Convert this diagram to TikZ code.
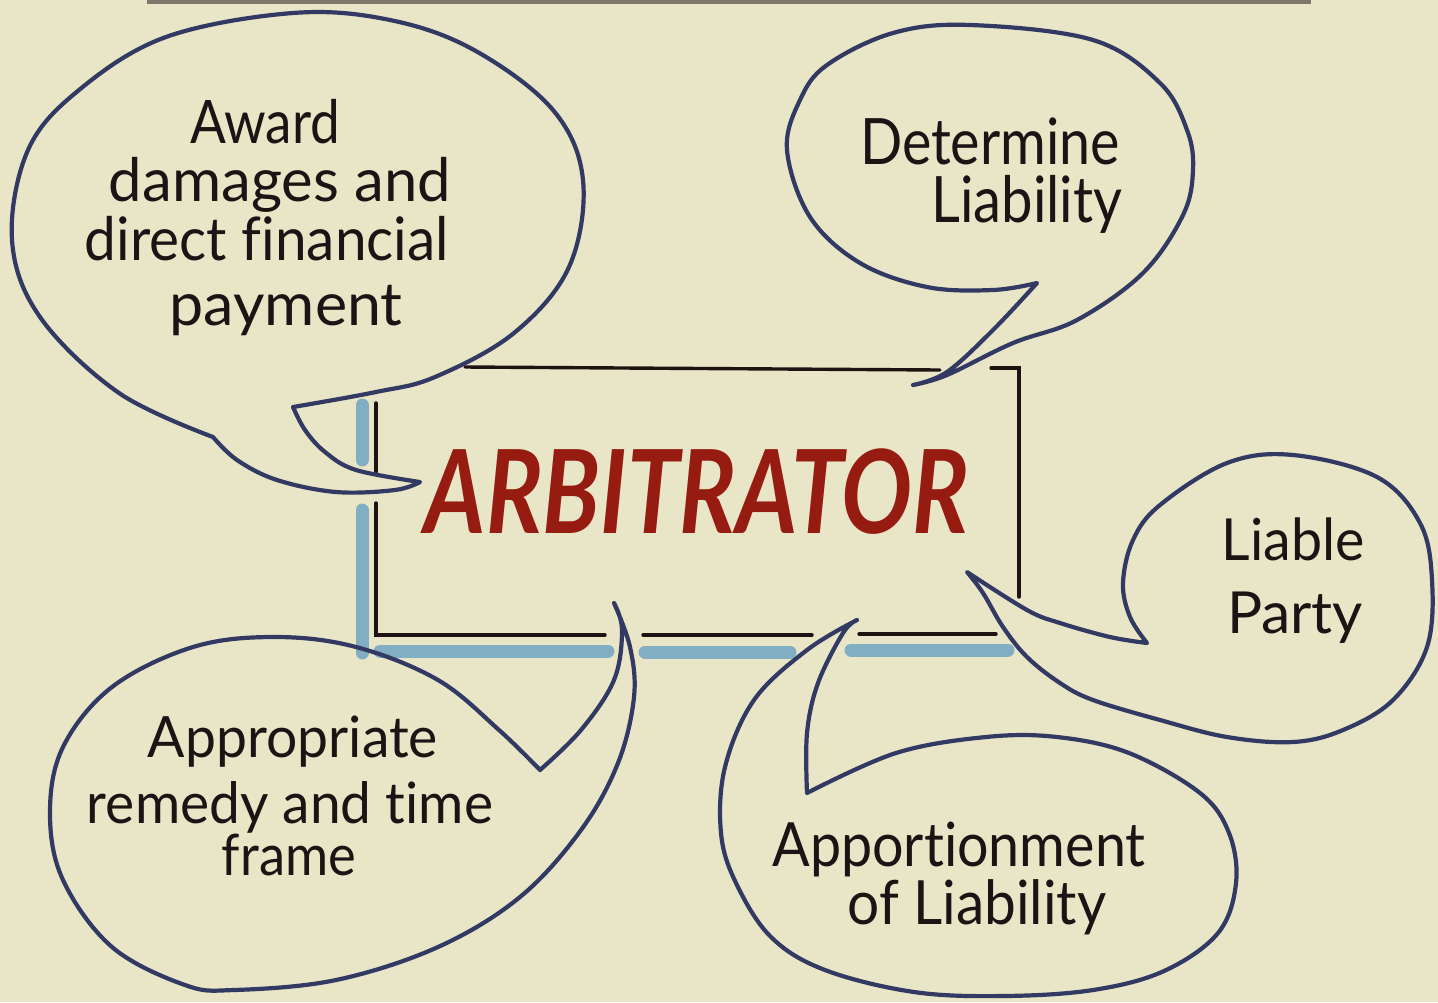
\documentclass[tikz,border=0pt]{standalone}
\usepackage{fontspec}
\usepackage{graphicx}
\setmainfont{Lato}[Ligatures={NoCommon,NoContextual,NoRequired}]
\definecolor{bgc}{RGB}{233,230,199}
\definecolor{navy}{RGB}{50,58,100}
\definecolor{ink}{RGB}{28,20,20}
\definecolor{boxline}{RGB}{30,18,18}
\definecolor{shadowblue}{RGB}{112,165,195}
\definecolor{redink}{RGB}{150,28,18}
\definecolor{topbar}{RGB}{128,118,108}
\newcommand\fitw[2]{\resizebox{#1}{\height}{#2}}
\newcommand\nl{\kern0pt }
\newcommand\fsA{\fontsize{30}{36}\selectfont}
\newcommand\fsB{\fontsize{32}{38}\selectfont}
\newcommand\fsC{\fontsize{29}{35}\selectfont}
\newcommand\fsD{\fontsize{30.5}{36}\selectfont}
\newcommand\fsE{\fontsize{28.5}{34}\selectfont}
\begin{document}
\begin{tikzpicture}[x=0.5pt, y=-0.5pt,
  bubble/.style={draw=navy, line width=2.1pt, line join=round, line cap=round},
  boxedge/.style={draw=boxline, line width=1.7pt, line cap=round},
  shade/.style={draw=shadowblue, line width=6.5pt, line cap=round, opacity=0.85},
  lbl/.style={inner sep=0pt, anchor=base, text=ink},
  title/.style={inner sep=0pt, anchor=base, text=redink}]
% background and frame
\fill[bgc] (0,0) rectangle (1438,1002);
\useasboundingbox (0,0) rectangle (1438,1002);
\fill[topbar] (147,0) rectangle (1311,4);

% blue shadow of the box
\draw[shade] (362,405) -- (362,460);
\draw[shade] (362,510) -- (362,653);
\draw[shade] (380,651) -- (608,651);
\draw[shade] (645,652) -- (790,652);
\draw[shade] (851,650) -- (1008,650);

% box edges
\draw[boxedge] (465,367) -- (940,370);
\draw[boxedge] (991,368) -- (1019,368) -- (1019,597);
\draw[boxedge] (376,403) -- (376,472);
\draw[boxedge] (376,503) -- (376,635) -- (605,635);
\draw[boxedge] (643,635) -- (812,635);
\draw[boxedge] (859,634) -- (996,634);

\node[title, font=\fontsize{58}{60}\selectfont\bfseries\itshape] (arb) at (697,533) {\fitw{272pt}{ARBITRATOR}};

% bubble 1: award damages
\draw[bubble] plot[smooth, tension=0.6] coordinates {(213,437) (119,393) (40,317) (12,240) (28,150) (79,90) (166,37) (293,13) (390,20) (474,50) (553,110) (583,180) (569,267) (514,333) (435,377) (376,392) (293,407)}
  -- plot[smooth, tension=0.6] coordinates {(293,407) (305,430) (325,452) (356,470) (420,482)}
  -- plot[smooth, tension=0.6] coordinates {(420,482) (395,490) (336,492) (277,480) (237,460) (213,437)};

% bubble 2: determine liability
\draw[bubble] plot[smooth, tension=0.6] coordinates {(1037,283) (993,290) (927,287) (860,263) (810,217) (787,150) (800,100) (827,65) (893,33) (970,25) (1093,40) (1160,83) (1187,130) (1193,170) (1183,215) (1143,273) (1077,320) (1013,343) (947,375) (913,385)}
  -- plot[smooth, tension=0.6] coordinates {(913,385) (947,372) (993,330) (1037,283)} -- cycle;

% bubble 3: liable party
\draw[bubble] plot[smooth, tension=0.6] coordinates {(1147,643) (1130,617) (1123,583) (1133,540) (1160,505) (1227,463) (1293,455) (1377,477) (1420,523) (1432,580) (1427,647) (1393,700) (1343,730) (1293,742) (1227,737) (1160,720) (1093,700) (1060,683) (1027,657) (1003,627) (983,593) (967,572)}
  -- plot[smooth, tension=0.6] coordinates {(967,572) (1027,610) (1060,623) (1110,637) (1147,643)} -- cycle;

% bubble 4: apportionment
\draw[bubble] plot[smooth, tension=0.6] coordinates {(857,620) (807,650) (754,700) (725,767) (721,833) (736,883) (771,937) (825,970) (914,992) (1004,996) (1093,990) (1164,971) (1218,933) (1236,883) (1229,833) (1200,793) (1129,753) (1057,737) (986,737) (896,753) (807,793)}
  -- plot[smooth, tension=0.6] coordinates {(807,793) (807,733) (818,683) (843,633) (857,620)} -- cycle;

% bubble 5: appropriate remedy
\draw[bubble] plot[smooth, tension=0.6] coordinates {(614,603) (630,647) (634,697) (618,763) (581,830) (520,897) (438,947) (336,980) (234,990) (185,985) (112,947) (63,880) (50,813) (63,747) (112,687) (193,647) (275,637) (356,647) (438,680) (499,730) (540,770)}
  -- plot[smooth, tension=0.6] coordinates {(540,770) (581,730) (614,680) (622,630) (614,603)} -- cycle;

% texts
\node[lbl, font=\fsA] (a1) at (265,143) {\fitw{75pt}{Award}};
\node[lbl, font=\fsA] (a2) at (280,201) {\fitw{171pt}{damages and}};
\node[lbl, font=\fsA] (a3) at (267,260) {\fitw{182pt}{direct f\nl inancial}};
\node[lbl, font=\fsA] (a4) at (286,325) {\fitw{116.5pt}{payment}};

\node[lbl, font=\fsB] (d1) at (990,164) {\fitw{130pt}{Determine}};
\node[lbl, font=\fsB] (d2) at (1027,222) {\fitw{95.5pt}{Liability}};

\node[lbl, font=\fsC] (l1) at (1293,560) {\fitw{71.5pt}{Liable}};
\node[lbl, font=\fsC] (l2) at (1295,633) {\fitw{68pt}{Party}};

\node[lbl, font=\fsD] (p1) at (959,866) {\fitw{186.5pt}{Apport\nl ionment}};
\node[lbl, font=\fsD] (p2) at (977,924) {\fitw{129.5pt}{of Liability}};

\node[lbl, font=\fsE] (r1) at (293,757) {\fitw{145pt}{Appropriate}};
\node[lbl, font=\fsE] (r2) at (290,823) {\fitw{203pt}{remedy and t\nl ime}};
\node[lbl, font=\fsE] (r3) at (289,875) {\fitw{67pt}{frame}};
\end{tikzpicture}
\end{document}
